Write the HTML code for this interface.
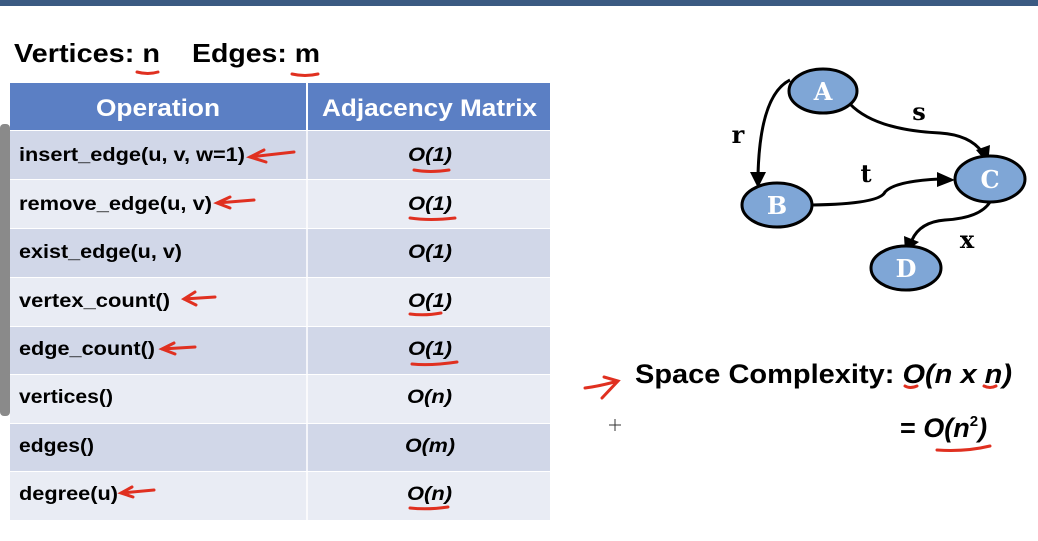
<!DOCTYPE html>
<html><head><meta charset="utf-8"><style>
body{margin:0;width:1038px;height:536px;overflow:hidden;background:#fff;font-family:"Liberation Sans",sans-serif}
</style></head><body>
<svg width="1038" height="536" xmlns="http://www.w3.org/2000/svg" font-family="Liberation Sans, sans-serif">
<rect x="0" y="0" width="1038" height="6" fill="#3b5a82"/>
<rect x="0" y="124" width="10" height="292" rx="4" fill="#8a8a8a"/>
<text x="14" y="62" font-size="26" font-weight="bold" fill="#000" textLength="146" lengthAdjust="spacingAndGlyphs">Vertices: n</text>
<text x="192" y="62" font-size="26" font-weight="bold" fill="#000" textLength="128" lengthAdjust="spacingAndGlyphs">Edges: m</text>
<path d="M137 72 Q148 75 158 72" stroke="#e03020" stroke-width="3" fill="none" stroke-linecap="round"/>
<path d="M292 74 Q305 77 318 74" stroke="#e03020" stroke-width="3" fill="none" stroke-linecap="round"/>
<rect x="10" y="83" width="540" height="47" fill="#5b7fc4"/>
<line x1="307" y1="83" x2="307" y2="130" stroke="#fff" stroke-width="2"/>
<text x="96" y="116" font-size="24" font-weight="bold" fill="#fff" textLength="124" lengthAdjust="spacingAndGlyphs">Operation</text>
<text x="322" y="116" font-size="24" font-weight="bold" fill="#fff" textLength="215" lengthAdjust="spacingAndGlyphs">Adjacency Matrix</text>
<g font-size="19" font-weight="bold" fill="#000">
<rect x="10" y="131" width="540" height="48" fill="#d1d7e8"/>
<rect x="10" y="180" width="540" height="48" fill="#e9ecf4"/>
<rect x="10" y="229" width="540" height="48" fill="#d1d7e8"/>
<rect x="10" y="278" width="540" height="48" fill="#e9ecf4"/>
<rect x="10" y="327" width="540" height="47" fill="#d1d7e8"/>
<rect x="10" y="375" width="540" height="48" fill="#e9ecf4"/>
<rect x="10" y="424" width="540" height="47" fill="#d1d7e8"/>
<rect x="10" y="472" width="540" height="48" fill="#e9ecf4"/>
<line x1="307" y1="131" x2="307" y2="520" stroke="#fff" stroke-width="1.5"/>
<text x="19" y="161" textLength="226" lengthAdjust="spacingAndGlyphs">insert_edge(u, v, w=1)</text>
<text x="19" y="210" textLength="193" lengthAdjust="spacingAndGlyphs">remove_edge(u, v)</text>
<text x="19" y="258" textLength="163" lengthAdjust="spacingAndGlyphs">exist_edge(u, v)</text>
<text x="19" y="307" textLength="151" lengthAdjust="spacingAndGlyphs">vertex_count()</text>
<text x="19" y="355" textLength="136" lengthAdjust="spacingAndGlyphs">edge_count()</text>
<text x="19" y="403" textLength="94" lengthAdjust="spacingAndGlyphs">vertices()</text>
<text x="19" y="452" textLength="75" lengthAdjust="spacingAndGlyphs">edges()</text>
<text x="19" y="500" textLength="99" lengthAdjust="spacingAndGlyphs">degree(u)</text>
<g font-style="italic">
<text x="408" y="161" textLength="44" lengthAdjust="spacingAndGlyphs">O(1)</text>
<text x="408" y="210" textLength="44" lengthAdjust="spacingAndGlyphs">O(1)</text>
<text x="408" y="258" textLength="44" lengthAdjust="spacingAndGlyphs">O(1)</text>
<text x="408" y="307" textLength="44" lengthAdjust="spacingAndGlyphs">O(1)</text>
<text x="408" y="355" textLength="44" lengthAdjust="spacingAndGlyphs">O(1)</text>
<text x="407" y="403" textLength="45" lengthAdjust="spacingAndGlyphs">O(n)</text>
<text x="405" y="452" textLength="50" lengthAdjust="spacingAndGlyphs">O(m)</text>
<text x="407" y="500" textLength="45" lengthAdjust="spacingAndGlyphs">O(n)</text>
</g>
</g>
<g stroke="#e03020" stroke-width="3" fill="none" stroke-linecap="round">
<path d="M414 170 Q430 173 449 170"/>
<path d="M410 218 Q430 221 455 218"/>
<path d="M410 314 Q425 316 441 313"/>
<path d="M412 364 Q430 366 457 362"/>
<path d="M410 508 Q428 510 448 507"/>
<path d="M250 157 L294 152 M264 150 L250 157 L266 162"/>
<path d="M217 203 L254 200 M230 197 L217 203 L230 208"/>
<path d="M184 299 L215 297 M195 292 L184 299 L196 305"/>
<path d="M162 349 L195 347 M174 343 L162 349 L175 354"/>
<path d="M121 493 L154 490 M132 487 L121 493 L133 497"/>
<path d="M905 386 Q910 389 917 386"/>
<path d="M984 386 Q990 389 996 386"/>
<path d="M937 450 Q965 452 990 446"/>
<path d="M585 388 Q600 386 618 381 M604 377 L618 381 L602 398"/>
</g>
<g stroke="#000" stroke-width="3" fill="none">
<path d="M790 80 Q760 95 758 175"/>
<path d="M850 104 Q875 130 940 133 Q970 135 982 152"/>
<path d="M812 205 Q880 204 885 192 Q895 181 940 179"/>
<path d="M990 202 Q980 218 945 220 Q920 222 912 240"/>
</g>
<g fill="#000">
<polygon points="750,172 766,172 758,188"/>
<polygon points="976,150 990,145 988,164"/>
<polygon points="937,172 937,187 955,180"/>
<polygon points="904,236 919,242 905,252"/>
</g>
<g stroke="#000" stroke-width="3" fill="#7fa6d6">
<ellipse cx="823" cy="91" rx="34" ry="22"/>
<ellipse cx="777" cy="205" rx="35" ry="22"/>
<ellipse cx="990" cy="179" rx="35" ry="23"/>
<ellipse cx="906" cy="268" rx="35" ry="22"/>
</g>
<g font-family="DejaVu Serif, serif" font-weight="bold" font-size="24" fill="#fff" text-anchor="middle">
<text x="823" y="100">A</text>
<text x="777" y="214">B</text>
<text x="990" y="188">C</text>
<text x="906" y="277">D</text>
</g>
<g font-family="DejaVu Serif, serif" font-weight="bold" font-size="24" fill="#000" text-anchor="middle">
<text x="738" y="143">r</text>
<text x="919" y="120">s</text>
<text x="866" y="182">t</text>
<text x="967" y="248">x</text>
</g>
<text x="635" y="383" font-size="27" font-weight="bold" fill="#000" textLength="377" lengthAdjust="spacingAndGlyphs">Space Complexity: <tspan font-style="italic">O(n x n)</tspan></text>
<text x="900" y="437" font-size="27" font-weight="bold" fill="#000">= <tspan font-style="italic">O(n</tspan><tspan font-size="15" dy="-11">2</tspan><tspan font-style="italic" dy="11">)</tspan></text>
<g stroke="#333" stroke-width="1"><line x1="609" y1="425" x2="621" y2="425"/><line x1="615" y1="419" x2="615" y2="431"/></g>
</svg>
</body></html>
